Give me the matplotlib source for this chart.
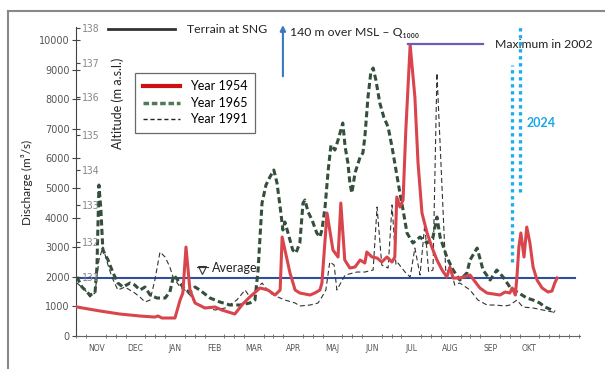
import matplotlib
matplotlib.use('Agg')
from matplotlib import pyplot as plt
from matplotlib.lines import Line2D

# x in months from 1 Nov (0) ; discharge in m3/s
x_1954 = [0.01, 0.60, 1.10, 1.61, 1.99, 2.07, 2.17, 2.50, 2.63, 2.70, 2.78, 2.88, 3.01, 3.26, 3.52,
          3.69, 4.02, 4.22, 4.40, 4.66, 4.86, 5.04, 5.17, 5.22, 5.42, 5.55, 5.67, 5.93, 6.05, 6.18,
          6.23, 6.36, 6.51, 6.64, 6.71, 6.81, 6.94, 7.07, 7.20, 7.32, 7.37, 7.50, 7.63, 7.75, 7.88,
          8.01, 8.08, 8.13, 8.21, 8.29, 8.36, 8.47, 8.59, 8.67, 8.77, 8.90, 9.02, 9.15, 9.28, 9.40,
          9.48, 9.56, 9.73, 9.99, 10.24, 10.42, 10.75, 10.88, 11.00, 11.06, 11.14, 11.18, 11.23,
          11.28, 11.36, 11.43, 11.51, 11.59, 11.69, 11.82, 11.97, 12.07, 12.14, 12.20]
q_1954 = [980, 845, 743, 676, 640, 676, 608, 608, 1216, 1453, 3007, 1554, 1115, 946, 980,
          878, 743, 1081, 1318, 1622, 1554, 1385, 1554, 3345, 2128, 1554, 1453, 1385, 1453, 1554,
          1791, 4155, 2905, 2669, 4493, 2568, 2297, 2331, 2568, 2466, 2838, 2669, 2635, 2500, 2669,
          2500, 2669, 4696, 4358, 4595, 6959, 9831, 8074, 5845, 4155, 3480, 3007, 2568, 2230, 1993,
          2331, 1959, 1959, 2061, 1622, 1453, 1385, 1486, 1453, 1622, 1385, 1993, 3007,
          3480, 2669, 3682, 3142, 2331, 1892, 1622, 1486, 1520, 1791, 1959]

x_1965 = [0.01, 0.14, 0.22, 0.34, 0.47, 0.52, 0.57, 0.62, 0.67, 0.80, 0.93, 1.05, 1.18, 1.36, 1.48,
          1.61, 1.74, 1.87, 2.04, 2.25, 2.37, 2.47, 2.63, 2.75, 2.88, 3.01, 3.13, 3.39, 3.64, 3.90,
          4.15, 4.40, 4.53, 4.61, 4.71, 4.81, 4.91, 5.01, 5.09, 5.17, 5.24, 5.29, 5.37, 5.49, 5.57,
          5.67, 5.75, 5.80, 5.88, 5.98, 6.10, 6.18, 6.23, 6.31, 6.39, 6.46, 6.56, 6.64, 6.76, 6.82,
          6.89, 6.94, 6.99, 7.07, 7.20, 7.27, 7.32, 7.40, 7.47, 7.53, 7.60, 7.70, 7.80, 7.91, 8.01,
          8.11, 8.21, 8.29, 8.39, 8.54, 8.72, 8.90, 9.05, 9.15, 9.23, 9.40, 9.56, 9.73, 9.91, 9.99,
          10.17, 10.32, 10.50, 10.67, 10.83, 11.00, 11.18, 11.31, 11.43, 11.59, 11.76, 11.89, 12.07, 12.14]
q_1965 = [1993, 1655, 1554, 1385, 1453, 2331, 5101, 4257, 2905, 2568, 2128, 1791, 1655, 1791, 1723,
          1554, 1655, 1385, 1284, 1284, 1486, 2061, 1791, 1554, 1486, 1655, 1554, 1284, 1149, 1047,
          1047, 1115, 1216, 2230, 4493, 5101, 5372, 5608, 5169, 4358, 3581, 3851, 3480, 2905, 2804,
          3142, 4493, 4595, 4189, 3919, 3480, 3345, 3581, 4358, 5608, 6453, 6284, 6622, 7196, 6385,
          5845, 5169, 4831, 5507, 6047, 6182, 6723, 8074, 8885, 9054, 8649, 7872, 7399, 7061, 6385,
          5608, 4831, 4257, 3480, 3142, 3345, 3142, 3345, 4020, 3345, 2669, 2230, 1892, 2128, 2568,
          2973, 2230, 1892, 2230, 1993, 1655, 1486, 1385, 1284, 1216, 1115, 980, 878, 811]

x_1991 = [0.01, 0.22, 0.34, 0.47, 0.57, 0.67, 0.80, 0.90, 1.05, 1.23, 1.48, 1.61, 1.74, 1.87, 1.99,
          2.12, 2.25, 2.37, 2.45, 2.63, 2.75, 2.88, 3.01, 3.26, 3.52, 3.77, 4.07, 4.28, 4.40, 4.71,
          4.91, 5.11, 5.29, 5.55, 5.67, 5.93, 6.13, 6.23, 6.33, 6.43, 6.54, 6.61, 6.82, 7.12, 7.32,
          7.53, 7.63, 7.75, 7.91, 8.01, 8.11, 8.16, 8.34, 8.47, 8.59, 8.72, 8.84, 8.94, 9.05, 9.15,
          9.38, 9.48, 9.60, 9.73, 9.99, 10.19, 10.42, 10.62, 10.88, 11.00, 11.18, 11.33, 11.59, 11.84, 12.09]
q_1991 = [1791, 1554, 1318, 1453, 2568, 3007, 2399, 1993, 1554, 1655, 1453, 1318, 1149, 1216, 1892,
          2838, 2669, 2331, 1993, 1655, 1554, 1385, 1115, 980, 878, 946, 1216, 1554, 1318, 1791,
          1453, 1318, 1216, 1115, 1014, 1047, 1115, 1318, 1554, 2500, 2399, 1554, 2061, 2162, 2162,
          2230, 4358, 2399, 2297, 4426, 2399, 2466, 2162, 1993, 2973, 2061, 3750, 2162, 2230, 8885,
          1993, 2399, 1723, 1791, 1554, 1216, 1047, 1047, 1014, 1047, 1216, 980, 946, 878, 811]

q_average = 1970
q_max_2002 = 9850
x_max_2002 = [8.41, 10.32]

months = ['NOV', 'DEC', 'JAN', 'FEB', 'MAR', 'APR', 'MAJ', 'JUN', 'JUL', 'AUG', 'SEP', 'OKT']
q_ticks = list(range(0, 10001, 1000))
alt_labels = [131, 132, 133, 134, 135, 136, 137, 138]
alt_at_q = [1990, 3180, 4430, 5610, 6790, 8070, 9220, 10400]

# 2024 dotted marks (x, q from, q to)
x_2024 = [11.05, 11.25]
q_2024_low = [2500, 4870]
q_2024_high = [9150, 10500]

plt.rcParams['font.family'] = ['Lato', 'DejaVu Sans']

fig = plt.figure(figsize=(6.05, 3.69), dpi=100)
ax = fig.add_axes([0.1264, 0.0894, 0.8322, 0.8382])
ax.set_xlim(0, 12.78)
ax.set_ylim(0, 10450)

ax.axhline(q_average, xmax=12.65 / 12.78, color='#2e4f9e', lw=1.5, zorder=1)
ax.plot(x_1991, q_1991, color='#333333', lw=0.8, dashes=(4.5, 2.7), zorder=2)
ax.plot(x_1965, q_1965, color='#34503c', lw=2.2, dashes=(2.0, 1.1), zorder=3)
ax.plot(x_1954, q_1954, color='#d9454c', lw=2.2, zorder=4)
ax.plot(x_max_2002, [q_max_2002, q_max_2002], color='#6a5fb5', lw=1.6, zorder=5)

for xv, lo, hi in zip(x_2024, q_2024_low, q_2024_high):
    ax.plot([xv, xv], [lo, hi], color='#18aef0', lw=2.4, dashes=(1, 1.1), clip_on=False, zorder=6)
ax.text(11.43, 7200, '2024', color='#1aa7e8', fontsize=9, fontweight='bold', va='center')

# annotations
ax.text(10.62, q_max_2002, 'Maximum in 2002', fontsize=8.8, va='center', color='#222222',
        clip_on=False)
ax.annotate('', xy=(5.24, 10600), xytext=(5.24, 8680),
            arrowprops=dict(arrowstyle='-|>', color='#3a78c0', lw=1.5, mutation_scale=8),
            annotation_clip=False)
ax.text(5.42, 10240, '140 m over MSL – Q₁₀₀₀', fontsize=8.8, va='center', color='#222222',
        clip_on=False)
ax.plot([0.80, 2.50], [10370, 10370], color='#333333', lw=2, clip_on=False)
ax.text(2.80, 10370, 'Terrain at SNG', fontsize=8.8, va='center', color='#222222', clip_on=False)
ax.plot([3.19], [2230], marker='v', ms=6, mfc='none', mec='#333333', mew=0.8)
ax.plot([3.05, 3.33], [2330, 2330], color='#333333', lw=0.8)
ax.text(3.44, 2300, 'Average', fontsize=9, va='center', color='#222222')

# axes styling
for s in ['top', 'right']:
    ax.spines[s].set_visible(False)
ax.spines['left'].set_color('#444444')
ax.spines['bottom'].set_color('#666666')
ax.set_yticks(q_ticks)
ax.set_yticklabels([str(v) for v in q_ticks], fontsize=7, family='DejaVu Sans', color='#555555')
ax.tick_params(axis='y', direction='inout', length=6, width=0.8, pad=2, color='#444444')
ax.set_xticks([i + 0.5 for i in range(12)])
ax.set_xticklabels(months, fontsize=5.5, family='DejaVu Sans', color='#555555')
ax.set_xticks([i * 0.25 for i in range(52)], minor=True)
ax.tick_params(axis='x', which='major', length=0, pad=6)
ax.tick_params(axis='x', which='minor', direction='inout', length=3, width=0.6, color='#666666')

ax2 = ax.twinx()
ax2.set_ylim(ax.get_ylim())
ax2.spines['right'].set_position(('axes', 0))
for s in ['top', 'left', 'bottom', 'right']:
    ax2.spines[s].set_visible(False)
ax2.set_yticks(alt_at_q)
ax2.set_yticklabels([str(a) for a in alt_labels], fontsize=7, family='DejaVu Sans Mono',
                    color='#888888')
ax2.tick_params(axis='y', direction='out', length=3, width=0.8, pad=1, color='#444444')

leg_handles = [Line2D([], [], color='#cc1111', lw=3),
               Line2D([], [], color='#4e7a55', lw=2.5, dashes=(1.6, 0.8)),
               Line2D([], [], color='#222222', lw=1, dashes=(3, 2))]
leg = fig.legend(leg_handles, ['Year 1954', 'Year 1965', 'Year 1991'], loc='upper left',
                 bbox_to_anchor=(135 / 605, 1 - 73 / 369), fontsize=9, frameon=True,
                 fancybox=False, edgecolor='#444444', handlelength=3.0, labelspacing=0.35,
                 borderpad=0.6, borderaxespad=0)
leg.get_frame().set_linewidth(0.9)

fig.text(27 / 605, 1 - 182 / 369, 'Discharge (m³/s)', rotation=90, fontsize=8.5,
         ha='center', va='center', color='#222222')
fig.text(118 / 605, 1 - 103 / 369, 'Altitude (m a.s.l.)', rotation=90, fontsize=9,
         ha='center', va='center', color='#222222')

# scan frame
fig.add_artist(Line2D([8 / 605, 8 / 605], [0, 1 - 11 / 369], color='#888888', lw=1.5))
fig.add_artist(Line2D([8 / 605, 1], [1 - 11 / 369, 1 - 11 / 369], color='#888888', lw=1.5))

fig.savefig('out.png', dpi=100)
